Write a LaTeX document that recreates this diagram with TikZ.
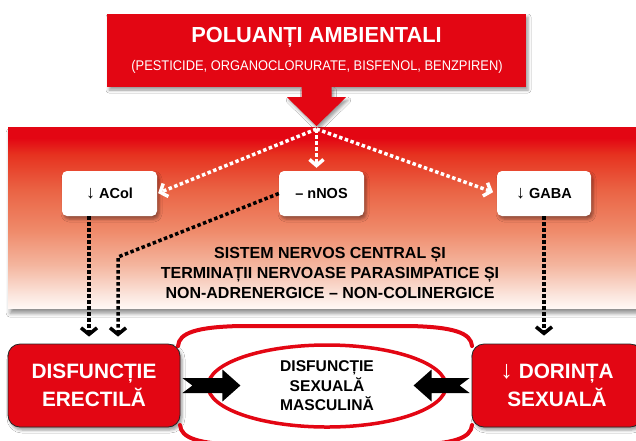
\documentclass[tikz,border=0pt]{standalone}
\usepackage{fontspec}
\setmainfont{Liberation Sans}
\newfontfamily\condfont[FakeStretch=0.92]{Liberation Sans}
\usetikzlibrary{arrows.meta,shapes.geometric,shadows.blur,calc}
\definecolor{pred}{HTML}{E30613}
\definecolor{bA}{HTML}{FFF8F5}
\definecolor{bB}{HTML}{FBE6DE}
\definecolor{bC}{HTML}{F4B59E}
\definecolor{bD}{HTML}{EF8A6A}
\definecolor{bE}{HTML}{EA6445}
\definecolor{bF}{HTML}{E6321F}
\pgfdeclareverticalshading{bandshade}{100bp}{color(0bp)=(bA); color(25bp)=(bA); color(28.5bp)=(bB); color(37bp)=(bC); color(46.5bp)=(bD); color(57.5bp)=(bE); color(67.5bp)=(bF); color(72bp)=(pred); color(100bp)=(pred)}
\newcommand{\darr}[1]{{\mdseries\fontsize{#1}{#1}\selectfont ↓}}
\begin{document}
\begin{tikzpicture}[x=1pt,y=-1pt,
  shd/.style={blur shadow={shadow xshift=2pt,shadow yshift=-3pt,shadow blur radius=3pt,shadow opacity=40}},
  wbox/.style={fill=white, rounded corners=5pt, minimum height=45pt, inner sep=0pt,
    font=\fontsize{14.5}{16}\selectfont\bfseries, shd},
  rbox/.style={fill=pred, draw=black!85, line width=0.8pt, rounded corners=12pt,
    minimum height=83pt, inner sep=0pt, text=white, align=center,
    font=\fontsize{20.8}{28}\selectfont\bfseries, shd},
  wdot/.style={white, line width=3.5pt, dash pattern=on 3.5pt off 2.5pt,
    -{Straight Barb[length=6pt,width=14pt]}},
  bdot/.style={black, line width=3.5pt, dash pattern=on 3.5pt off 2.5pt,
    -{Straight Barb[length=6.5pt,width=16pt]}},
]
\useasboundingbox (0,0) rectangle (636,440);
\fill[white] (0,0) rectangle (636,440);

% band
\node[inner sep=0pt, minimum width=640pt, minimum height=181pt, anchor=north west,
  shade, shading=bandshade,
  blur shadow={shadow xshift=2pt,shadow yshift=-5pt,shadow blur radius=4pt,shadow opacity=45}]
  (band) at (8,127) {};

% top box
\node[fill=pred, minimum width=419pt, minimum height=73pt, inner sep=0pt, shd] (top) at (316.5,50.5) {};
\node[text=white, font=\fontsize{21.8}{25}\selectfont\bfseries, anchor=base] (title) at (316.5,42) {POLUANȚI AMBIENTALI};
\node[text=white, font=\condfont\fontsize{14}{16}\selectfont, anchor=base] (sub) at (317,70) {(PESTICIDE, ORGANOCLORURATE, BISFENOL, BENZPIREN)};

% big red arrow
\coordinate (apex) at (316.5,126);
\fill[pred, shd] (top.south) ++(-15,0) -- ++(0,10) -- ++(-14.5,0) -- (apex)
  -- ($(top.south)+(29.5,10)$) -- ++(-14.5,0) -- ++(0,-10) -- cycle;
\coordinate (src) at (316.5,129);

% white boxes
\node[wbox, minimum width=95pt] (acol) at (109.5,193.5) {\darr{18} ACol};
\node[wbox, minimum width=85pt] (nnos) at (321.5,193.5) {– nNOS};
\node[wbox, minimum width=94pt] (gaba) at (544,193.5) {\darr{18} GABA};

% middle text
\node[align=center, font=\fontsize{16}{20}\selectfont\bfseries] (mid) at (330,272.5)
  {SISTEM NERVOS CENTRAL ȘI\\TERMINAȚII NERVOASE PARASIMPATICE ȘI\\NON-ADRENERGICE – NON-COLINERGICE};

% bottom boxes
\node[rbox, minimum width=172pt] (ed) at (94,385.5) {DISFUNCȚIE\\ERECTILĂ};
\node[rbox, minimum width=170pt] (ds) at (557,385.5) {\darr{25} DORINȚA\\SEXUALĂ};

% ellipse
\node[ellipse, draw=pred, line width=3.5pt, minimum width=238pt, minimum height=82pt,
  inner sep=0pt, align=center, font=\fontsize{15.6}{19.5}\selectfont\bfseries] (ell) at (327,386)
  {DISFUNCȚIE\\SEXUALĂ\\MASCULINĂ};

% outer arcs
\draw[pred, line width=4pt, line cap=round] (178,346) .. controls (179,333) and (196,327) .. (240,326)
  -- (410,326) .. controls (454,327) and (471,333) .. (472,346);
\draw[pred, line width=4pt, line cap=round] (180,425) .. controls (181,438) and (198,444) .. (242,445)
  -- (410,445) .. controls (454,444) and (471,438) .. (472,425);

% white dotted arrows
\draw[wdot, shorten >=1pt] (src) -- (acol.east);
\draw[wdot, shorten >=3pt] (src) -- (src |- nnos.north);
\draw[wdot, shorten >=4pt] (src) -- (gaba.west);

% black dotted arrows
\coordinate (a1) at ([xshift=-20.5pt]acol.south);
\draw[bdot, shorten >=7pt] (a1) -- (a1 |- ed.north);
\coordinate (bend) at (118,257);
\draw[bdot, shorten >=7pt] (nnos.west) -- (bend) -- (bend |- ed.north);
\draw[bdot, shorten >=8pt] (gaba.south) -- (gaba.south |- ds.north);

% block arrows
\fill[black] ([xshift=2pt]ed.east) ++(0,-7.5) -- ++(40,0) -- ++(0,-8.5) -- ++(18,16)
  -- ++(-18,16) -- ++(0,-8.5) -- ++(-40,0) -- ++(10,-7.5) -- cycle;
\fill[black] ([xshift=-2pt]ds.west) ++(0,-7.5) -- ++(-38,0) -- ++(0,-8.5) -- ++(-18,16)
  -- ++(18,16) -- ++(0,-8.5) -- ++(38,0) -- ++(-10,-7.5) -- cycle;
\end{tikzpicture}
\end{document}
